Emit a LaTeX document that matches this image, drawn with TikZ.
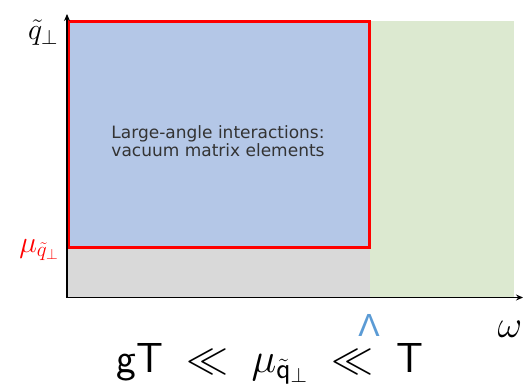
\RequirePackage{fix-cm}
\documentclass[tikz,border=0pt]{standalone}
\usepackage{amsmath,amssymb}
\usepackage{fontspec}
\newfontfamily\labelfont{DejaVu Sans}
\newfontfamily\lamfont{Liberation Sans}
\definecolor{bluefill}{HTML}{B4C7E7}
\definecolor{greenfill}{HTML}{DCE9D0}
\definecolor{grayfill}{HTML}{D9D9D9}
\definecolor{lambdablue}{HTML}{5B9BD5}
\usetikzlibrary{arrows.meta}
\tikzset{
  axis/.style={line width=1.2pt, -{Stealth[length=7pt,width=6pt]}},
}
\begin{document}
\begin{tikzpicture}[x=1pt,y=-1pt]
\useasboundingbox (0,0) rectangle (524,387);
% regions
\fill[greenfill] (370,21) rectangle (514,297);
\fill[grayfill] (67,248) rectangle (370,297);
\fill[bluefill] (68,21) rectangle (369,248);
\draw[red, line width=3pt] (68.5,21.5) rectangle (369,247.5);
% axes
\coordinate (o) at (67,297.5);
\coordinate (ytop) at (67,14);
\coordinate (xend) at (523,297.5);
\draw[axis] (o) -- (ytop);
\draw[axis] (o) -- (xend);
% labels
\node[font=\labelfont\fontsize{17}{18.5}\selectfont, text=black!80, align=center] (txt) at (218,141) {Large-angle interactions:\\vacuum matrix elements};
\node[font=\fontsize{30}{32}\selectfont] (qlab) at (43,33) {$\tilde q_\perp$};
\node[font=\fontsize{30}{32}\selectfont, text=red] (mulab) at (39,250) {$\mu_{\tilde q_\perp}$};
\node[font=\lamfont\fontsize{32}{34}\selectfont, text=lambdablue, anchor=base] (lam) at (369,336) {Λ};
\node[font=\fontsize{38}{40}\selectfont, anchor=base] (om) at (510,337) {$\omega$};
\node[font=\fontsize{42}{44}\selectfont, anchor=base] (rel) at (270,372) {$\mathsf{gT} \;\ll\; \mu_{\tilde{\mathsf{q}}_\perp} \;\ll\; \mathsf{T}$};
\end{tikzpicture}
\end{document}
